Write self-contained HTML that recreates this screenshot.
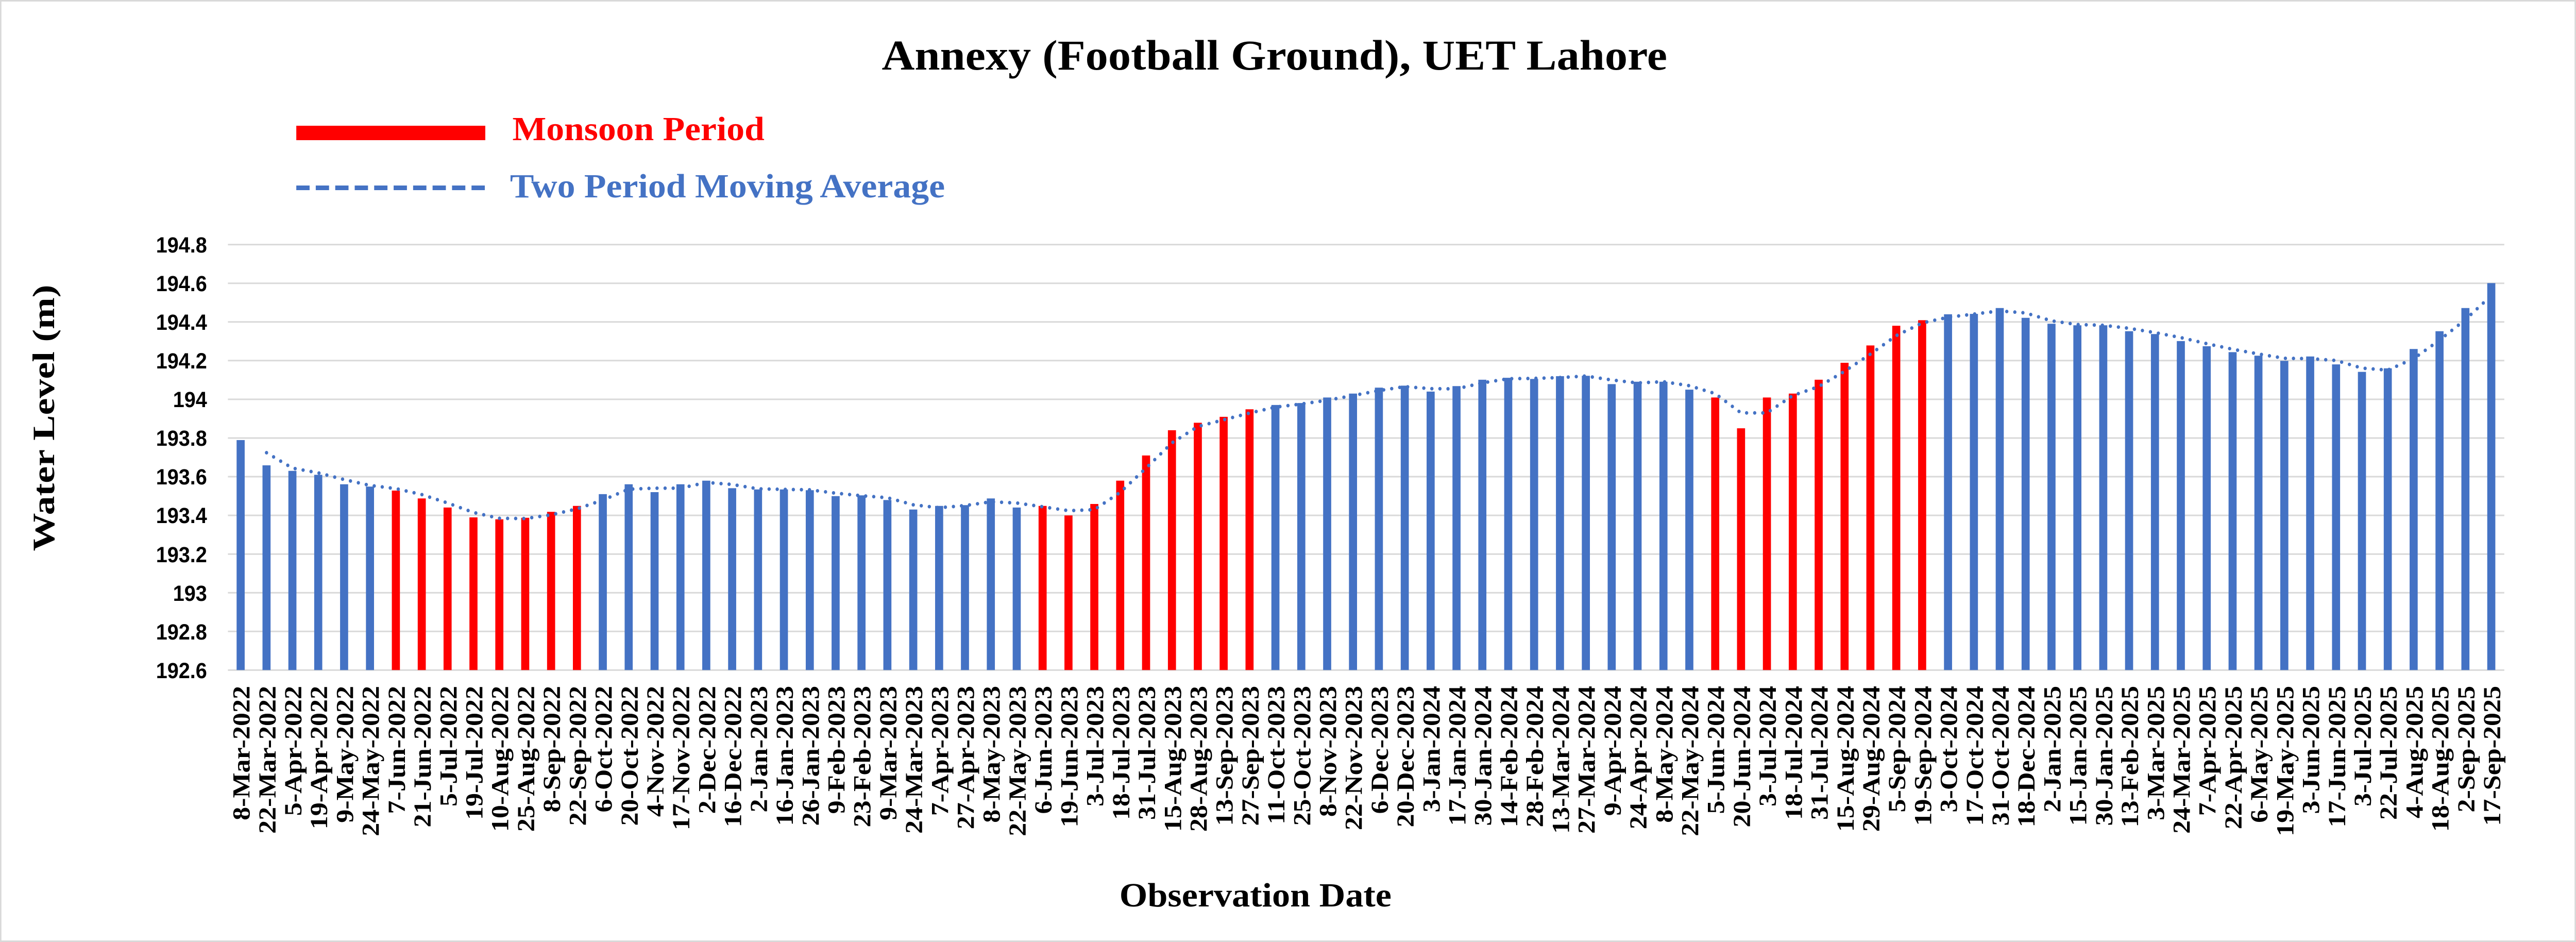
<!DOCTYPE html>
<html><head><meta charset="utf-8"><style>
html,body{margin:0;padding:0;background:#fff;width:100%;height:100%;overflow:hidden}
svg{display:block;width:100vw;height:100vh}
.yl{font-family:"Liberation Sans",sans-serif;font-weight:bold;font-size:43px;fill:#000;text-anchor:end}
.xl{font-family:"Liberation Serif",serif;font-weight:bold;font-size:52px;fill:#000;text-anchor:end}
.t{font-family:"Liberation Serif",serif;font-weight:bold}
</style></head><body>
<svg viewBox="0 0 5425 1828" preserveAspectRatio="none" xmlns="http://www.w3.org/2000/svg">
<rect x="1.5" y="1.5" width="5422" height="1825" fill="#fff" stroke="#d9d9d9" stroke-width="3"/>
<text class="t" x="2684" y="135" font-size="83" text-anchor="middle" textLength="1654" lengthAdjust="spacingAndGlyphs">Annexy (Football Ground), UET Lahore</text>
<rect x="624" y="244" width="398" height="28" fill="#ff0000"/>
<text class="t" x="1079" y="272" font-size="66" fill="#ff0000" textLength="531" lengthAdjust="spacingAndGlyphs">Monsoon Period</text>
<line x1="624" y1="364.5" x2="1022" y2="364.5" stroke="#4472c4" stroke-width="9" stroke-dasharray="28 13"/>
<text class="t" x="1074" y="383" font-size="66" fill="#4472c4" textLength="916" lengthAdjust="spacingAndGlyphs">Two Period Moving Average</text>
<text class="t" transform="translate(114,811) rotate(-90)" font-size="65" text-anchor="middle" textLength="517" lengthAdjust="spacingAndGlyphs">Water Level (m)</text>
<text class="t" x="2644" y="1759" font-size="66" text-anchor="middle" textLength="573" lengthAdjust="spacingAndGlyphs">Observation Date</text>
<g stroke="#d9d9d9" stroke-width="3">
<line x1="480" x2="5274" y1="474.6" y2="474.6"/><line x1="480" x2="5274" y1="549.7" y2="549.7"/><line x1="480" x2="5274" y1="624.7" y2="624.7"/><line x1="480" x2="5274" y1="699.8" y2="699.8"/><line x1="480" x2="5274" y1="774.9" y2="774.9"/><line x1="480" x2="5274" y1="850" y2="850"/><line x1="480" x2="5274" y1="925" y2="925"/><line x1="480" x2="5274" y1="1000.1" y2="1000.1"/><line x1="480" x2="5274" y1="1075.2" y2="1075.2"/><line x1="480" x2="5274" y1="1150.3" y2="1150.3"/><line x1="480" x2="5274" y1="1225.3" y2="1225.3"/><line x1="480" x2="5274" y1="1300.4" y2="1300.4"/>
</g>
<g class="yl">
<text x="436" y="490">194.8</text><text x="436" y="565">194.6</text><text x="436" y="640">194.4</text><text x="436" y="715">194.2</text><text x="436" y="790">194</text><text x="436" y="865">193.8</text><text x="436" y="940">193.6</text><text x="436" y="1015">193.4</text><text x="436" y="1091">193.2</text><text x="436" y="1166">193</text><text x="436" y="1241">192.8</text><text x="436" y="1316">192.6</text>
</g>
<path fill="#4472c4" d="M498.3 1300.3V854h17V1300.3zM552.8 1300.3V903h17V1300.3zM607.3 1300.3V913.7h17V1300.3zM661.7 1300.3V921.4h17V1300.3zM716.2 1300.3V939.7h17V1300.3zM770.7 1300.3V944.3h17V1300.3zM1261 1300.3V958.9h17V1300.3zM1315.5 1300.3V939.7h17V1300.3zM1370 1300.3V955h17V1300.3zM1424.5 1300.3V939.7h17V1300.3zM1478.9 1300.3V932.8h17V1300.3zM1533.4 1300.3V947.4h17V1300.3zM1587.9 1300.3V949.7h17V1300.3zM1642.4 1300.3V949.7h17V1300.3zM1696.9 1300.3V951.2h17V1300.3zM1751.3 1300.3V962.7h17V1300.3zM1805.8 1300.3V961.2h17V1300.3zM1860.3 1300.3V970.4h17V1300.3zM1914.8 1300.3V988.7h17V1300.3zM1969.3 1300.3V981.8h17V1300.3zM2023.7 1300.3V980.3h17V1300.3zM2078.2 1300.3V967.3h17V1300.3zM2132.7 1300.3V984.9h17V1300.3zM2677.5 1300.3V785.9h17V1300.3zM2732 1300.3V782.1h17V1300.3zM2786.5 1300.3V771.4h17V1300.3zM2840.9 1300.3V763.7h17V1300.3zM2895.4 1300.3V752.2h17V1300.3zM2949.9 1300.3V748.4h17V1300.3zM3004.4 1300.3V759.9h17V1300.3zM3058.9 1300.3V749.2h17V1300.3zM3113.3 1300.3V736.9h17V1300.3zM3167.8 1300.3V733.1h17V1300.3zM3222.3 1300.3V735.4h17V1300.3zM3276.8 1300.3V730h17V1300.3zM3331.3 1300.3V729.3h17V1300.3zM3385.7 1300.3V745.4h17V1300.3zM3440.2 1300.3V740.8h17V1300.3zM3494.7 1300.3V740.8h17V1300.3zM3549.2 1300.3V756.1h17V1300.3zM4094 1300.3V609.9h17V1300.3zM4148.5 1300.3V609.1h17V1300.3zM4202.9 1300.3V597.7h17V1300.3zM4257.4 1300.3V616.8h17V1300.3zM4311.9 1300.3V628.3h17V1300.3zM4366.4 1300.3V631.3h17V1300.3zM4420.9 1300.3V631.3h17V1300.3zM4475.3 1300.3V642.8h17V1300.3zM4529.8 1300.3V648.2h17V1300.3zM4584.3 1300.3V661.9h17V1300.3zM4638.8 1300.3V671.9h17V1300.3zM4693.3 1300.3V683.4h17V1300.3zM4747.7 1300.3V690.3h17V1300.3zM4802.2 1300.3V700.2h17V1300.3zM4856.7 1300.3V691.8h17V1300.3zM4911.2 1300.3V707.1h17V1300.3zM4965.7 1300.3V721.6h17V1300.3zM5020.1 1300.3V714.7h17V1300.3zM5074.6 1300.3V677.2h17V1300.3zM5129.1 1300.3V642.8h17V1300.3zM5183.6 1300.3V597.7h17V1300.3zM5238.1 1300.3V549.4h17V1300.3z"/>
<path fill="#ff0000" d="M825.2 1300.3V952h17V1300.3zM879.7 1300.3V967.3h17V1300.3zM934.1 1300.3V984.9h17V1300.3zM988.6 1300.3V1004h17V1300.3zM1043.1 1300.3V1007.8h17V1300.3zM1097.6 1300.3V1004.8h17V1300.3zM1152.1 1300.3V993.3h17V1300.3zM1206.5 1300.3V981.8h17V1300.3zM2187.2 1300.3V981.8h17V1300.3zM2241.7 1300.3V1000.2h17V1300.3zM2296.1 1300.3V978h17V1300.3zM2350.6 1300.3V932.8h17V1300.3zM2405.1 1300.3V883.9h17V1300.3zM2459.6 1300.3V834.9h17V1300.3zM2514.1 1300.3V820.4h17V1300.3zM2568.5 1300.3V808.9h17V1300.3zM2623 1300.3V794.3h17V1300.3zM3603.7 1300.3V771.4h17V1300.3zM3658.1 1300.3V831.1h17V1300.3zM3712.6 1300.3V771.4h17V1300.3zM3767.1 1300.3V763.7h17V1300.3zM3821.6 1300.3V736.9h17V1300.3zM3876.1 1300.3V704h17V1300.3zM3930.5 1300.3V670.4h17V1300.3zM3985 1300.3V632.1h17V1300.3zM4039.5 1300.3V621.4h17V1300.3z"/>
<polyline fill="none" stroke="#4472c4" stroke-width="7" stroke-linecap="round" stroke-dasharray="0 17" points="561.3,878.5 615.8,908.4 670.2,917.6 724.7,930.6 779.2,942 833.7,948.2 888.2,959.7 942.6,976.1 997.1,994.5 1051.6,1005.9 1106.1,1006.3 1160.6,999.1 1215,987.6 1269.5,970.4 1324,949.3 1378.5,947.4 1433,947.4 1487.4,936.3 1541.9,940.1 1596.4,948.6 1650.9,949.7 1705.4,950.5 1759.8,957 1814.3,962 1868.8,965.8 1923.3,979.6 1977.8,985.3 2032.2,981.1 2086.7,973.8 2141.2,976.1 2195.7,983.4 2250.2,991 2304.6,989.1 2359.1,955.4 2413.6,908.4 2468.1,859.4 2522.6,827.7 2577,814.7 2631.5,801.6 2686,790.1 2740.5,784 2795,776.8 2849.4,767.6 2903.9,758 2958.4,750.3 3012.9,754.2 3067.4,754.6 3121.8,743.1 3176.3,735 3230.8,734.3 3285.3,732.7 3339.8,729.7 3394.2,737.4 3448.7,743.1 3503.2,740.8 3557.7,748.5 3612.2,763.8 3666.6,801.3 3721.1,801.3 3775.6,767.6 3830.1,750.3 3884.6,720.5 3939,687.2 3993.5,651.3 4048,626.8 4102.5,615.7 4157,609.5 4211.4,603.4 4265.9,607.3 4320.4,622.6 4374.9,629.8 4429.4,631.3 4483.8,637.1 4538.3,645.5 4592.8,655.1 4647.3,666.9 4701.8,677.7 4756.2,686.9 4810.7,695.3 4865.2,696 4919.7,699.5 4974.2,714.4 5028.6,718.2 5083.1,696 5137.6,660 5192.1,620.3 5246.6,573.6"/>
<g class="xl">
<text transform="translate(525.8,1331) rotate(-90)">8-Mar-2022</text>
<text transform="translate(580.3,1331) rotate(-90)">22-Mar-2022</text>
<text transform="translate(634.8,1331) rotate(-90)">5-Apr-2022</text>
<text transform="translate(689.2,1331) rotate(-90)">19-Apr-2022</text>
<text transform="translate(743.7,1331) rotate(-90)">9-May-2022</text>
<text transform="translate(798.2,1331) rotate(-90)">24-May-2022</text>
<text transform="translate(852.7,1331) rotate(-90)">7-Jun-2022</text>
<text transform="translate(907.2,1331) rotate(-90)">21-Jun-2022</text>
<text transform="translate(961.6,1331) rotate(-90)">5-Jul-2022</text>
<text transform="translate(1016.1,1331) rotate(-90)">19-Jul-2022</text>
<text transform="translate(1070.6,1331) rotate(-90)">10-Aug-2022</text>
<text transform="translate(1125.1,1331) rotate(-90)">25-Aug-2022</text>
<text transform="translate(1179.6,1331) rotate(-90)">8-Sep-2022</text>
<text transform="translate(1234,1331) rotate(-90)">22-Sep-2022</text>
<text transform="translate(1288.5,1331) rotate(-90)">6-Oct-2022</text>
<text transform="translate(1343,1331) rotate(-90)">20-Oct-2022</text>
<text transform="translate(1397.5,1331) rotate(-90)">4-Nov-2022</text>
<text transform="translate(1452,1331) rotate(-90)">17-Nov-2022</text>
<text transform="translate(1506.4,1331) rotate(-90)">2-Dec-2022</text>
<text transform="translate(1560.9,1331) rotate(-90)">16-Dec-2022</text>
<text transform="translate(1615.4,1331) rotate(-90)">2-Jan-2023</text>
<text transform="translate(1669.9,1331) rotate(-90)">16-Jan-2023</text>
<text transform="translate(1724.4,1331) rotate(-90)">26-Jan-2023</text>
<text transform="translate(1778.8,1331) rotate(-90)">9-Feb-2023</text>
<text transform="translate(1833.3,1331) rotate(-90)">23-Feb-2023</text>
<text transform="translate(1887.8,1331) rotate(-90)">9-Mar-2023</text>
<text transform="translate(1942.3,1331) rotate(-90)">24-Mar-2023</text>
<text transform="translate(1996.8,1331) rotate(-90)">7-Apr-2023</text>
<text transform="translate(2051.2,1331) rotate(-90)">27-Apr-2023</text>
<text transform="translate(2105.7,1331) rotate(-90)">8-May-2023</text>
<text transform="translate(2160.2,1331) rotate(-90)">22-May-2023</text>
<text transform="translate(2214.7,1331) rotate(-90)">6-Jun-2023</text>
<text transform="translate(2269.2,1331) rotate(-90)">19-Jun-2023</text>
<text transform="translate(2323.6,1331) rotate(-90)">3-Jul-2023</text>
<text transform="translate(2378.1,1331) rotate(-90)">18-Jul-2023</text>
<text transform="translate(2432.6,1331) rotate(-90)">31-Jul-2023</text>
<text transform="translate(2487.1,1331) rotate(-90)">15-Aug-2023</text>
<text transform="translate(2541.6,1331) rotate(-90)">28-Aug-2023</text>
<text transform="translate(2596,1331) rotate(-90)">13-Sep-2023</text>
<text transform="translate(2650.5,1331) rotate(-90)">27-Sep-2023</text>
<text transform="translate(2705,1331) rotate(-90)">11-Oct-2023</text>
<text transform="translate(2759.5,1331) rotate(-90)">25-Oct-2023</text>
<text transform="translate(2814,1331) rotate(-90)">8-Nov-2023</text>
<text transform="translate(2868.4,1331) rotate(-90)">22-Nov-2023</text>
<text transform="translate(2922.9,1331) rotate(-90)">6-Dec-2023</text>
<text transform="translate(2977.4,1331) rotate(-90)">20-Dec-2023</text>
<text transform="translate(3031.9,1331) rotate(-90)">3-Jan-2024</text>
<text transform="translate(3086.4,1331) rotate(-90)">17-Jan-2024</text>
<text transform="translate(3140.8,1331) rotate(-90)">30-Jan-2024</text>
<text transform="translate(3195.3,1331) rotate(-90)">14-Feb-2024</text>
<text transform="translate(3249.8,1331) rotate(-90)">28-Feb-2024</text>
<text transform="translate(3304.3,1331) rotate(-90)">13-Mar-2024</text>
<text transform="translate(3358.8,1331) rotate(-90)">27-Mar-2024</text>
<text transform="translate(3413.2,1331) rotate(-90)">9-Apr-2024</text>
<text transform="translate(3467.7,1331) rotate(-90)">24-Apr-2024</text>
<text transform="translate(3522.2,1331) rotate(-90)">8-May-2024</text>
<text transform="translate(3576.7,1331) rotate(-90)">22-May-2024</text>
<text transform="translate(3631.2,1331) rotate(-90)">5-Jun-2024</text>
<text transform="translate(3685.6,1331) rotate(-90)">20-Jun-2024</text>
<text transform="translate(3740.1,1331) rotate(-90)">3-Jul-2024</text>
<text transform="translate(3794.6,1331) rotate(-90)">18-Jul-2024</text>
<text transform="translate(3849.1,1331) rotate(-90)">31-Jul-2024</text>
<text transform="translate(3903.6,1331) rotate(-90)">15-Aug-2024</text>
<text transform="translate(3958,1331) rotate(-90)">29-Aug-2024</text>
<text transform="translate(4012.5,1331) rotate(-90)">5-Sep-2024</text>
<text transform="translate(4067,1331) rotate(-90)">19-Sep-2024</text>
<text transform="translate(4121.5,1331) rotate(-90)">3-Oct-2024</text>
<text transform="translate(4176,1331) rotate(-90)">17-Oct-2024</text>
<text transform="translate(4230.4,1331) rotate(-90)">31-Oct-2024</text>
<text transform="translate(4284.9,1331) rotate(-90)">18-Dec-2024</text>
<text transform="translate(4339.4,1331) rotate(-90)">2-Jan-2025</text>
<text transform="translate(4393.9,1331) rotate(-90)">15-Jan-2025</text>
<text transform="translate(4448.4,1331) rotate(-90)">30-Jan-2025</text>
<text transform="translate(4502.8,1331) rotate(-90)">13-Feb-2025</text>
<text transform="translate(4557.3,1331) rotate(-90)">3-Mar-2025</text>
<text transform="translate(4611.8,1331) rotate(-90)">24-Mar-2025</text>
<text transform="translate(4666.3,1331) rotate(-90)">7-Apr-2025</text>
<text transform="translate(4720.8,1331) rotate(-90)">22-Apr-2025</text>
<text transform="translate(4775.2,1331) rotate(-90)">6-May-2025</text>
<text transform="translate(4829.7,1331) rotate(-90)">19-May-2025</text>
<text transform="translate(4884.2,1331) rotate(-90)">3-Jun-2025</text>
<text transform="translate(4938.7,1331) rotate(-90)">17-Jun-2025</text>
<text transform="translate(4993.2,1331) rotate(-90)">3-Jul-2025</text>
<text transform="translate(5047.6,1331) rotate(-90)">22-Jul-2025</text>
<text transform="translate(5102.1,1331) rotate(-90)">4-Aug-2025</text>
<text transform="translate(5156.6,1331) rotate(-90)">18-Aug-2025</text>
<text transform="translate(5211.1,1331) rotate(-90)">2-Sep-2025</text>
<text transform="translate(5265.6,1331) rotate(-90)">17-Sep-2025</text>
</g>
</svg>
</body></html>
